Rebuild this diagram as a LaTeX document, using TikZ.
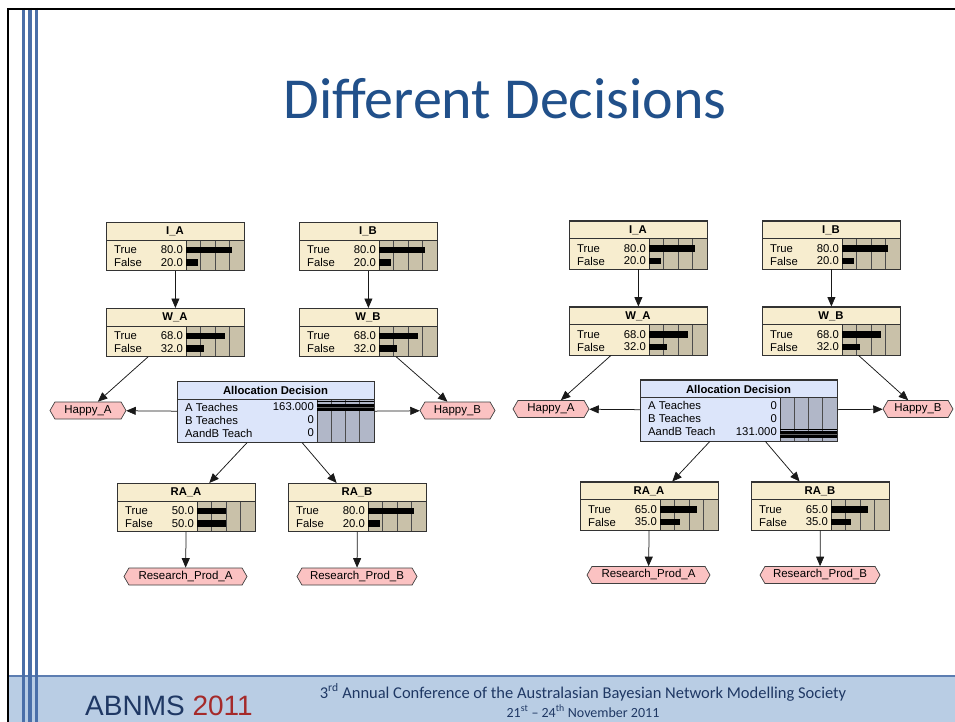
\documentclass[tikz,border=0pt]{standalone}
\usepackage{fontspec}
\setmainfont{Liberation Sans}
\newfontfamily\calib{Carlito}
\usetikzlibrary{shapes.symbols,arrows.meta}

\definecolor{bnfill}{HTML}{F7EDCF}
\definecolor{bnbar}{HTML}{C9C1A9}
\definecolor{alfill}{HTML}{DCE5FA}
\definecolor{albar}{HTML}{B1B7C8}
\definecolor{hexfill}{HTML}{FBC2C2}
\definecolor{titleblue}{HTML}{21508A}
\definecolor{footband}{HTML}{B9CDE4}
\definecolor{stripe}{HTML}{4A6FA8}
\definecolor{footblue}{HTML}{1F3864}
\definecolor{footred}{HTML}{A52A2A}

\tikzset{
 bnbox/.style={draw=black!80, fill=bnfill, line width=0.8pt, minimum width=138pt, minimum height=48pt, anchor=north west, inner sep=0pt},
 albox/.style={draw=black!80, fill=alfill, line width=0.8pt, minimum width=197pt, minimum height=61pt, anchor=north west, inner sep=0pt},
 hexnode/.style={shape=signal, signal to=west and east, signal pointer angle=120, draw=black!75, fill=hexfill, line width=0.7pt, minimum height=17pt, inner xsep=2pt, inner ysep=0pt, text height=8pt, text depth=2.5pt, font=\fontsize{11.5}{12}\selectfont},
 link/.style={draw=black!90, line width=0.75pt, -{Triangle[length=9.5pt,width=8pt]}},
 lbl/.style={inner sep=0pt, font=\fontsize{11.3}{12}\selectfont},
 ttl/.style={inner sep=0pt, font=\bfseries\fontsize{11.3}{12}\selectfont},
 gridln/.style={draw=black!70, line width=0.6pt},
 frameln/.style={draw=black!80, line width=0.8pt},
}

\newcommand\bnnode[6]{%
 \node[bnbox] (#1) at (#2,#3) {};
 \fill[bnbar] (#2+80,#3+18) rectangle (#2+138,#3+48);
 \foreach \k in {1,2,3} {\draw[gridln] (#2+80+14.5*\k,#3+18) -- (#2+80+14.5*\k,#3+48);}
 \draw[frameln] (#2,#3+18) -- (#2+138,#3+18);
 \draw[frameln] (#2+80,#3+18) -- (#2+80,#3+48);
 \fill (#2+80,#3+24.5) rectangle (#2+80+0.575*#5,#3+31);
 \fill (#2+80,#3+37) rectangle (#2+80+0.575*#6,#3+43.5);
 \node[ttl] at (#2+69,#3+9.5) {#4};
 \node[lbl,anchor=west] at (#2+8,#3+28) {True};
 \node[lbl,anchor=east] at (#2+77,#3+28) {#5};
 \node[lbl,anchor=west] at (#2+8,#3+40.5) {False};
 \node[lbl,anchor=east] at (#2+77,#3+40.5) {#6};
 \draw[frameln] (#1.north west) rectangle (#1.south east);
}

\newcommand\alnode[7]{%
 \node[albox] (#1) at (#2,#3) {};
 \fill[albar] (#2+140,#3+18) rectangle (#2+197,#3+61);
 \foreach \k in {1,2,3} {\draw[gridln] (#2+140+14.25*\k,#3+18) -- (#2+140+14.25*\k,#3+61);}
 \draw[frameln] (#2,#3+18) -- (#2+197,#3+18);
 \draw[frameln] (#2+140,#3+18) -- (#2+140,#3+61);
 \draw[line width=0.6pt] (#2+140,#3+#7-5.5) -- (#2+197,#3+#7-5.5);
 \fill (#2+140,#3+#7-3.5) rectangle (#2+197,#3+#7+3.5);
 \draw[black!60, line width=0.5pt] (#2+140,#3+#7) -- (#2+197,#3+#7);
 \node[ttl] at (#2+98.5,#3+9.5) {Allocation Decision};
 \node[lbl,anchor=west] at (#2+8,#3+26) {A Teaches};
 \node[lbl,anchor=east] at (#2+137,#3+26) {#4};
 \node[lbl,anchor=west] at (#2+8,#3+39) {B Teaches};
 \node[lbl,anchor=east] at (#2+137,#3+39) {#5};
 \node[lbl,anchor=west] at (#2+8,#3+52) {AandB Teach};
 \node[lbl,anchor=east] at (#2+137,#3+52) {#6};
 \draw[frameln] (#1.north west) rectangle (#1.south east);
}

\newcommand\network[9]{%
 \bnnode{IA}{106}{222}{I\_A}{80.0}{20.0}
 \bnnode{IB}{299}{222}{I\_B}{80.0}{20.0}
 \bnnode{WA}{106}{308}{W\_A}{68.0}{32.0}
 \bnnode{WB}{299}{308}{W\_B}{68.0}{32.0}
 \alnode{AL}{177}{381}{#1}{#2}{#3}{#4}
 \bnnode{RAA}{117}{483}{RA\_A}{#5}{#6}
 \bnnode{RAB}{288}{483}{RA\_B}{#7}{#8}
 \node[hexnode, minimum width=76pt] (HA) at (88,410.5) {Happy\_A};
 \node[hexnode, #9] (HB) at (457.5,410.5) {Happy\_B};
 \node[hexnode, minimum width=123pt] (RPA) at (185.5,576.5) {Research\_Prod\_A};
 \node[hexnode, minimum width=120pt] (RPB) at (357,576.5) {Research\_Prod\_B};
 \draw[link] (IA) -- (WA);
 \draw[link] (IB) -- (WB);
 \draw[link] (WA) -- (HA);
 \draw[link] (WB) -- (HB);
 \draw[link] (AL) -- (HA);
 \draw[link] (AL) -- (HB);
 \draw[link] (AL) -- (RAA);
 \draw[link] (AL) -- (RAB);
 \draw[link] (RAA) -- (RPA);
 \draw[link] (RAB) -- (RPB);
}

\begin{document}
\begin{tikzpicture}[x=1pt,y=-1pt]
 \useasboundingbox (0,0) rectangle (955,722);
 \fill[white] (0,0) rectangle (955,722);
 % footer band
 \fill[footband] (8,675) rectangle (955,722);
 \draw[stripe!90, line width=2.5pt] (8,676) -- (955,676);
 % left stripes
 \draw[stripe, line width=2.6pt] (23.5,8) -- (23.5,722);
 \draw[stripe, line width=3.2pt] (30,8) -- (30,722);
 \draw[stripe, line width=2.6pt] (36.5,8) -- (36.5,722);
 % frame
 \draw[black, line width=1.6pt] (8,722) -- (8,9) -- (955,9);
 % title
 \node[inner sep=0pt, anchor=base, text=titleblue, font=\calib\fontsize{58}{60}\selectfont] (title) at (505,119) {Different Decisions};
 % networks
 \begin{scope}[name prefix=L-]
  \network{163.000}{0}{0}{26}{50.0}{50.0}{80.0}{20.0}{minimum width=75pt}
 \end{scope}
 \begin{scope}[shift={(463,-1.5)}, name prefix=R-]
  \network{0}{0}{131.000}{55}{65.0}{35.0}{65.0}{35.0}{minimum width=70pt, xshift=-2.5pt}
 \end{scope}
 % footer text
 \node[inner sep=0pt, anchor=base west, text=footblue, font=\fontsize{28}{30}\selectfont] (abnms) at (85,715) {ABNMS \textcolor{footred}{2011}};
 \node[inner sep=0pt, anchor=base, text=footblue, font=\calib\fontsize{16.5}{18}\selectfont] (conf) at (583,698) {3\textsuperscript{rd} Annual Conference of the Australasian Bayesian Network Modelling Society};
 \node[inner sep=0pt, anchor=base, text=footblue, font=\calib\fontsize{14}{16}\selectfont] (dates) at (583,717) {21\textsuperscript{st} – 24\textsuperscript{th} November 2011};
\end{tikzpicture}
\end{document}
